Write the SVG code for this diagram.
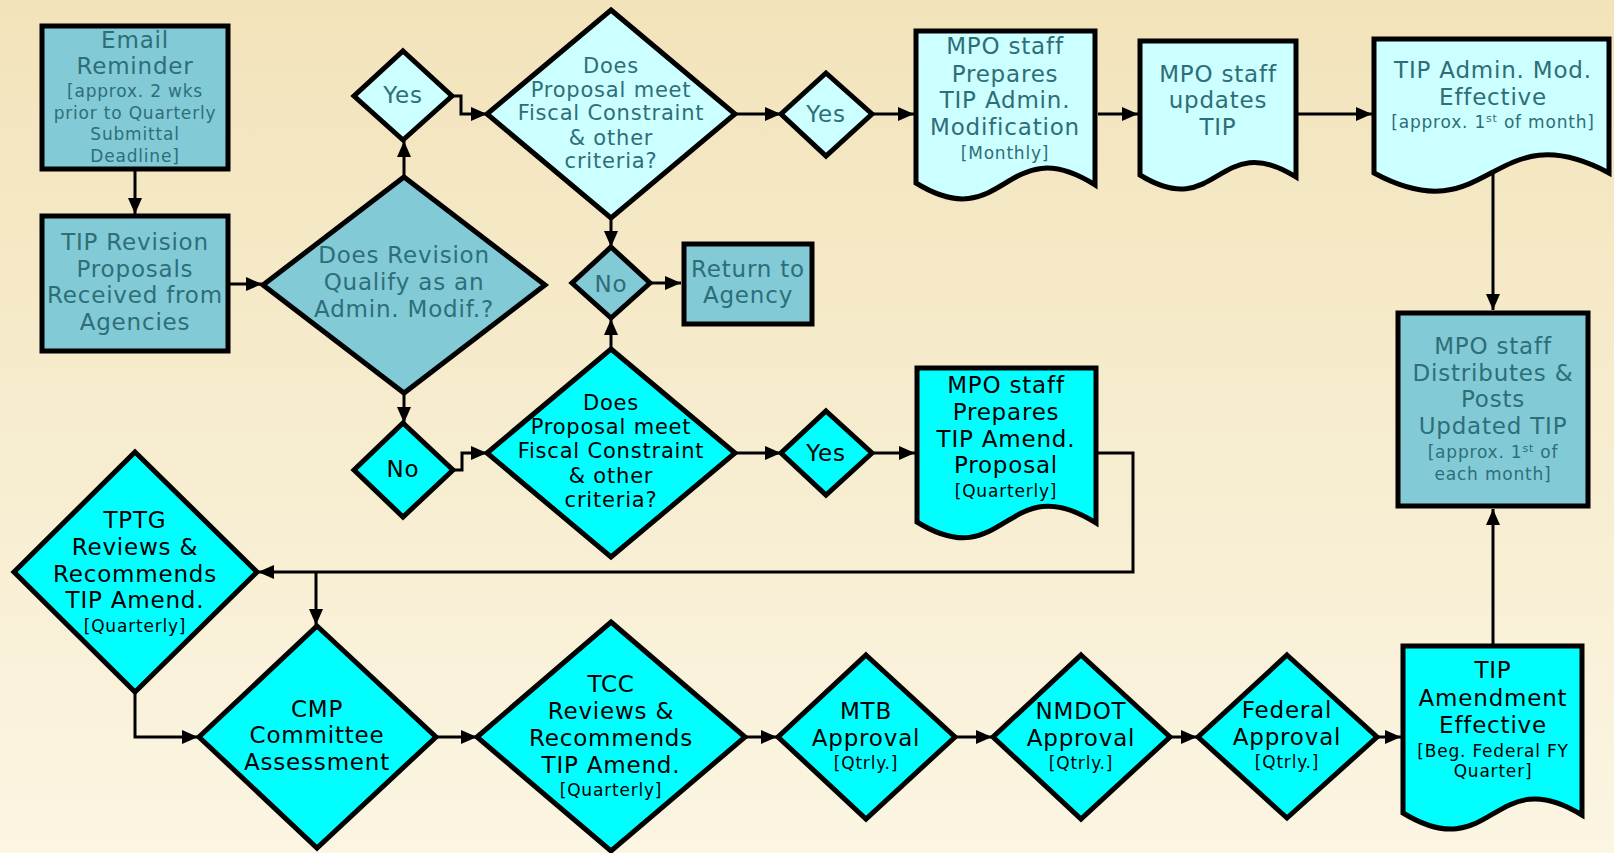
<svg xmlns="http://www.w3.org/2000/svg" width="1614" height="853" viewBox="0 0 1614 853">
<defs>
<linearGradient id="bg" x1="0" y1="0" x2="0" y2="1">
<stop offset="0" stop-color="#F2E3BA"/>
<stop offset="1" stop-color="#FBF5E2"/>
</linearGradient>
<marker id="ah" viewBox="0 0 16 14" refX="16" refY="7" markerWidth="16" markerHeight="14" markerUnits="userSpaceOnUse" orient="auto">
<path d="M0,0 L16,7 L0,14 Z" fill="#000"/>
</marker>
<style>
.n{stroke:#000;stroke-width:5;stroke-linejoin:miter}
.steel{fill:#82CAD6}
.light{fill:#CCFFFF}
.cyan{fill:#00FFFF}
text{font-family:"DejaVu Sans","Liberation Sans",sans-serif;text-anchor:middle;letter-spacing:0.8px}
.t{fill:#2E6E78}
.k{fill:#000}
.b{font-size:23px}
.m{font-size:21px}
.s{font-size:17px}
.sup{font-size:11px}
.c{fill:none;stroke:#000;stroke-width:3;marker-end:url(#ah)}
.cl{fill:none;stroke:#000;stroke-width:3}
</style>
</defs>
<rect x="0" y="0" width="1614" height="853" fill="url(#bg)"/>

<g id="connectors">
<path class="c" d="M135,171 V214"/>
<path class="c" d="M230,284 H262"/>
<path class="c" d="M404,177 V141"/>
<path class="c" d="M452,96 H461 V114 H487"/>
<path class="c" d="M404,394 V423"/>
<path class="c" d="M453,470 H462 V453 H487"/>
<path class="c" d="M735,114 H781"/>
<path class="c" d="M872,114 H914"/>
<path class="c" d="M611,219 V247"/>
<path class="c" d="M650,283 H681"/>
<path class="c" d="M611,349 V319"/>
<path class="c" d="M735,453 H781"/>
<path class="c" d="M872,453 H915"/>
<path class="c" d="M1098,114 H1138"/>
<path class="c" d="M1298,114 H1372"/>
<path class="c" d="M1493,173 V310"/>
<path class="c" d="M1098,453 H1133 V572 H258"/>
<path class="c" d="M316,572 V625"/>
<path class="c" d="M135,692 V737 H198"/>
<path class="c" d="M436,737 H477"/>
<path class="c" d="M745,737 H777"/>
<path class="c" d="M955,737 H992"/>
<path class="c" d="M1170,737 H1197"/>
<path class="c" d="M1377,737 H1401"/>
<path class="c" d="M1493,646 V509"/>
</g>

<g id="email">
<rect class="n steel" x="42" y="26" width="186" height="143"/>
<text class="t b" x="135" y="48">Email</text>
<text class="t b" x="135" y="74">Reminder</text>
<text class="t s" x="135" y="97">[approx. 2 wks</text>
<text class="t s" x="135" y="119">prior to Quarterly</text>
<text class="t s" x="135" y="140">Submittal</text>
<text class="t s" x="135" y="162">Deadline]</text>
</g>

<g id="tipRevision">
<rect class="n steel" x="42" y="216" width="186" height="135"/>
<text class="t b" x="135" y="250">TIP Revision</text>
<text class="t b" x="135" y="277">Proposals</text>
<text class="t b" x="135" y="303">Received from</text>
<text class="t b" x="135" y="330">Agencies</text>
</g>

<g id="qualify">
<polygon class="n steel" points="404,177 545,285 404,393 263,285"/>
<text class="t b" x="404" y="263">Does Revision</text>
<text class="t b" x="404" y="290">Qualify as an</text>
<text class="t b" x="404" y="317">Admin. Modif.?</text>
</g>

<g id="yesTop">
<polygon class="n light" points="403,51 452,96 403,140 354,96"/>
<text class="t b" x="403" y="103">Yes</text>
</g>

<g id="fiscalTop">
<polygon class="n light" points="611,10 735,114 611,218 487,114"/>
<text class="t m" x="611" y="73">Does</text>
<text class="t m" x="611" y="97">Proposal meet</text>
<text class="t m" x="611" y="120">Fiscal Constraint</text>
<text class="t m" x="611" y="145">&amp; other</text>
<text class="t m" x="611" y="168">criteria?</text>
</g>

<g id="noMid">
<polygon class="n steel" points="611,247 650,283 611,318 572,283"/>
<text class="t b" x="611" y="292">No</text>
</g>

<g id="returnAgency">
<rect class="n steel" x="684" y="244" width="128" height="80"/>
<text class="t b" x="748" y="277">Return to</text>
<text class="t b" x="748" y="303">Agency</text>
</g>

<g id="yesAdmin">
<polygon class="n light" points="826,73 872,114 826,156 781,114"/>
<text class="t b" x="826" y="122">Yes</text>
</g>

<g id="mpoAdmin">
<path class="n light" d="M916,31 H1095 V185 C1005,128 1005,238 916,183 Z"/>
<text class="t b" x="1005" y="54">MPO staff</text>
<text class="t b" x="1005" y="82">Prepares</text>
<text class="t b" x="1005" y="108">TIP Admin.</text>
<text class="t b" x="1005" y="135">Modification</text>
<text class="t s" x="1005" y="159">[Monthly]</text>
</g>

<g id="mpoUpdates">
<path class="n light" d="M1140,41 H1296 V177 C1218,128 1218,223 1140,175 Z"/>
<text class="t b" x="1218" y="82">MPO staff</text>
<text class="t b" x="1218" y="108">updates</text>
<text class="t b" x="1218" y="135">TIP</text>
</g>

<g id="adminEffective">
<path class="n light" d="M1374,39 H1609 V173 C1491,110 1491,236 1374,173 Z"/>
<text class="t b" x="1493" y="78">TIP Admin. Mod.</text>
<text class="t b" x="1493" y="105">Effective</text>
<text class="t s" x="1493" y="128">[approx. 1<tspan class="sup" dy="-6">st</tspan><tspan dy="6"> of month]</tspan></text>
</g>

<g id="distributes">
<rect class="n steel" x="1398" y="313" width="190" height="193"/>
<text class="t b" x="1493" y="354">MPO staff</text>
<text class="t b" x="1493" y="381">Distributes &amp;</text>
<text class="t b" x="1493" y="407">Posts</text>
<text class="t b" x="1493" y="434">Updated TIP</text>
<text class="t s" x="1493" y="458">[approx. 1<tspan class="sup" dy="-6">st</tspan><tspan dy="6"> of</tspan></text>
<text class="t s" x="1493" y="480">each month]</text>
</g>

<g id="noLower">
<polygon class="n cyan" points="403,423 453,470 403,517 354,470"/>
<text class="k b" x="403" y="477">No</text>
</g>

<g id="fiscalLower">
<polygon class="n cyan" points="611,349 735,453 611,557 487,453"/>
<text class="k m" x="611" y="410">Does</text>
<text class="k m" x="611" y="434">Proposal meet</text>
<text class="k m" x="611" y="458">Fiscal Constraint</text>
<text class="k m" x="611" y="483">&amp; other</text>
<text class="k m" x="611" y="507">criteria?</text>
</g>

<g id="yesAmend">
<polygon class="n cyan" points="826,411 872,453 826,495 781,453"/>
<text class="k b" x="826" y="461">Yes</text>
</g>

<g id="mpoAmend">
<path class="n cyan" d="M917,368 H1096 V523 C1006,466 1006,577 917,522 Z"/>
<text class="k b" x="1006" y="393">MPO staff</text>
<text class="k b" x="1006" y="420">Prepares</text>
<text class="k b" x="1006" y="447">TIP Amend.</text>
<text class="k b" x="1006" y="473">Proposal</text>
<text class="k s" x="1006" y="497">[Quarterly]</text>
</g>

<g id="tptg">
<polygon class="n cyan" points="135,452 257,572 135,692 14,572"/>
<text class="k b" x="135" y="528">TPTG</text>
<text class="k b" x="135" y="555">Reviews &amp;</text>
<text class="k b" x="135" y="582">Recommends</text>
<text class="k b" x="135" y="608">TIP Amend.</text>
<text class="k s" x="135" y="632">[Quarterly]</text>
</g>

<g id="cmp">
<polygon class="n cyan" points="317,626 436,737 317,848 199,737"/>
<text class="k b" x="317" y="717">CMP</text>
<text class="k b" x="317" y="743">Committee</text>
<text class="k b" x="317" y="770">Assessment</text>
</g>

<g id="tcc">
<polygon class="n cyan" points="611,622 745,737 611,851 477,737"/>
<text class="k b" x="611" y="692">TCC</text>
<text class="k b" x="611" y="719">Reviews &amp;</text>
<text class="k b" x="611" y="746">Recommends</text>
<text class="k b" x="611" y="773">TIP Amend.</text>
<text class="k s" x="611" y="796">[Quarterly]</text>
</g>

<g id="mtb">
<polygon class="n cyan" points="866,655 955,737 866,819 778,737"/>
<text class="k b" x="866" y="719">MTB</text>
<text class="k b" x="866" y="746">Approval</text>
<text class="k s" x="866" y="769">[Qtrly.]</text>
</g>

<g id="nmdot">
<polygon class="n cyan" points="1081,655 1170,737 1081,819 993,737"/>
<text class="k b" x="1081" y="719">NMDOT</text>
<text class="k b" x="1081" y="746">Approval</text>
<text class="k s" x="1081" y="769">[Qtrly.]</text>
</g>

<g id="federal">
<polygon class="n cyan" points="1287,655 1377,737 1287,818 1198,737"/>
<text class="k b" x="1287" y="718">Federal</text>
<text class="k b" x="1287" y="745">Approval</text>
<text class="k s" x="1287" y="768">[Qtrly.]</text>
</g>

<g id="amendEffective">
<path class="n cyan" d="M1403,646 H1582 V815 C1493,760 1493,868 1403,813 Z"/>
<text class="k b" x="1493" y="678">TIP</text>
<text class="k b" x="1493" y="706">Amendment</text>
<text class="k b" x="1493" y="733">Effective</text>
<text class="k s" x="1493" y="757">[Beg. Federal FY</text>
<text class="k s" x="1493" y="777">Quarter]</text>
</g>
</svg>
